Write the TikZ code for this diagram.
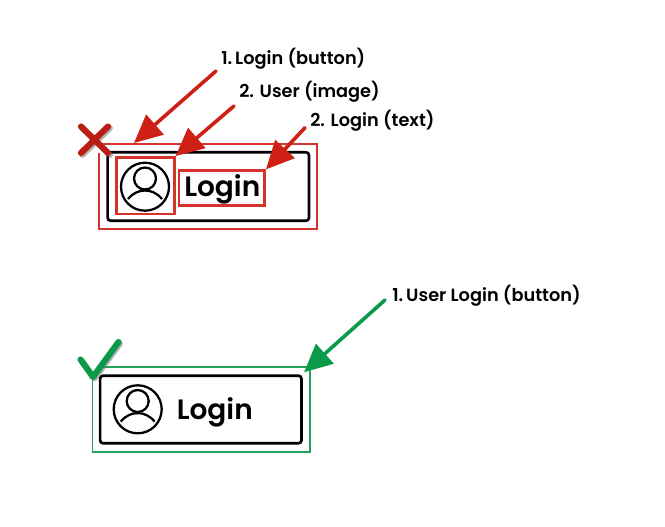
\documentclass[tikz,border=0pt]{standalone}
\usepackage{fontspec}
\setmainfont{Poppins}[BoldFont={Poppins}]
\newfontfamily\semi{Poppins SemiBold}
\newfontfamily\medi{Poppins Medium}
\usetikzlibrary{arrows.meta}
\definecolor{myred}{HTML}{CF2015}
\definecolor{boxred}{HTML}{D4342C}
\definecolor{mygreen}{HTML}{0B9A4A}
\definecolor{boxgreen}{HTML}{23A25C}
\tikzset{
  px/.style={x=0.75pt,y=-0.75pt},
  redbox/.style={draw=boxred,line width=1.9pt,inner sep=0pt},
  thinred/.style={draw=boxred,line width=1.25pt,inner sep=0pt},
  greenbox/.style={draw=boxgreen,line width=1.25pt,inner sep=0pt},
  button/.style={draw=black,line width=2pt,rounded corners=2.2pt,inner sep=0pt},
  callout/.style={anchor=base west,inner sep=0pt,font=\semi\fontsize{13.3pt}{15pt}\selectfont,text=black},
  loginword/.style={inner sep=0pt,anchor=base west,font=\semi\fontsize{21pt}{24pt}\selectfont,text=black},
  redarrow/.style={draw=myred,line width=2.7pt,line cap=round,-{Triangle[length=21pt,width=19.5pt,fill=myred]}},
  greenarrow/.style={draw=mygreen,line width=2.7pt,line cap=round,-{Triangle[length=21pt,width=19.5pt,fill=mygreen]}},
  markshadow/.style={draw=black!55,line width=4.4pt,line cap=round,line join=round,opacity=.55},
  avatar/.style={draw=black,line width=1.7pt,fill=none},
}
\begin{document}
\begin{tikzpicture}[px]
\useasboundingbox (0,0) rectangle (665,526);
\fill[white] (0,0) rectangle (665,526);

% --- wrong variant ---
\node[thinred,minimum width=163.5pt,minimum height=63.75pt] (outerR) at (208.2,186.5) {};
\node[button,minimum width=151pt,minimum height=51.3pt] (btnR) at (208.3,186.5) {};
\node[redbox,minimum width=43.2pt,minimum height=42.5pt] (imgR) at (145.5,185.7) {};
\node[redbox,minimum width=64.3pt,minimum height=26.3pt] (txtR) at (221.8,188.2) {};
\node[loginword] (wordR) at (184,196.5) {Login};
\node[avatar,circle,minimum size=36pt,inner sep=0pt] (faceR) at (145,186.7) {};
\node[avatar,circle,minimum size=16.5pt,inner sep=0pt] (headR) at (145,178.5) {};
\draw[avatar] (128,199) .. controls (133,193) and (139,190.5) .. (145,190.5) .. controls (151,190.5) and (157,193) .. (162,199);

% cross
\fill[white] (88,140) -- (94,139.5) -- (108,153) -- (98,153) -- cycle;
\draw[markshadow] (82.5,128) -- (110,155) (110,128) -- (82.5,155);
\draw[draw=myred!90!black,line width=4.6pt,line cap=round] (81,126.5) -- (108,153) (108,126.5) -- (81,153);

% --- right variant ---
\node[greenbox,minimum width=163.3pt,minimum height=63.75pt] (outerG) at (201.2,409.8) {};
\node[button,minimum width=151pt,minimum height=50.7pt] (btnG) at (200.8,409.5) {};
\node[loginword] (wordG) at (176.5,419.5) {Login};
\node[avatar,circle,minimum size=36pt,inner sep=0pt] (faceG) at (137.7,409.3) {};
\node[avatar,circle,minimum size=16.5pt,inner sep=0pt] (headG) at (137.7,401) {};
\draw[avatar] (120.7,421.6) .. controls (125.7,415.6) and (131.7,413.1) .. (137.7,413.1) .. controls (143.7,413.1) and (149.7,415.6) .. (154.7,421.6);

% check
\fill[white] (80.5,359.5) -- (93,377) -- (118.5,342) -- cycle;
\draw[markshadow] (82,361) -- (94.5,378.5) -- (120,343.5);
\draw[draw=mygreen,line width=4.6pt,line cap=round,line join=round] (80.5,359.5) -- (93,377) -- (118.5,342);

% --- labels ---
\node[callout] (lab1) at (221,64) {1.\,Login (button)};
\node[callout] (lab2) at (239,97) {2. User (image)};
\node[callout] (lab3) at (310,126) {2. Login (text)};
\node[callout] (lab4) at (392,301) {1.\,User Login (button)};

% --- connector ends ---
\coordinate (s1) at (216,71);
\coordinate (t1) at (134,143);
\coordinate (s2) at (234,106);
\coordinate (s3) at (305,127.7);
\coordinate (s4) at (385,300);
\coordinate (t4) at (304,372.3);

\draw[redarrow] (s1) -- (t1);
\draw[redarrow] (s2) -- (imgR.north east);
\draw[redarrow] (s3) -- (txtR.north east);
\draw[greenarrow] (s4) -- (t4);
\end{tikzpicture}
\end{document}
